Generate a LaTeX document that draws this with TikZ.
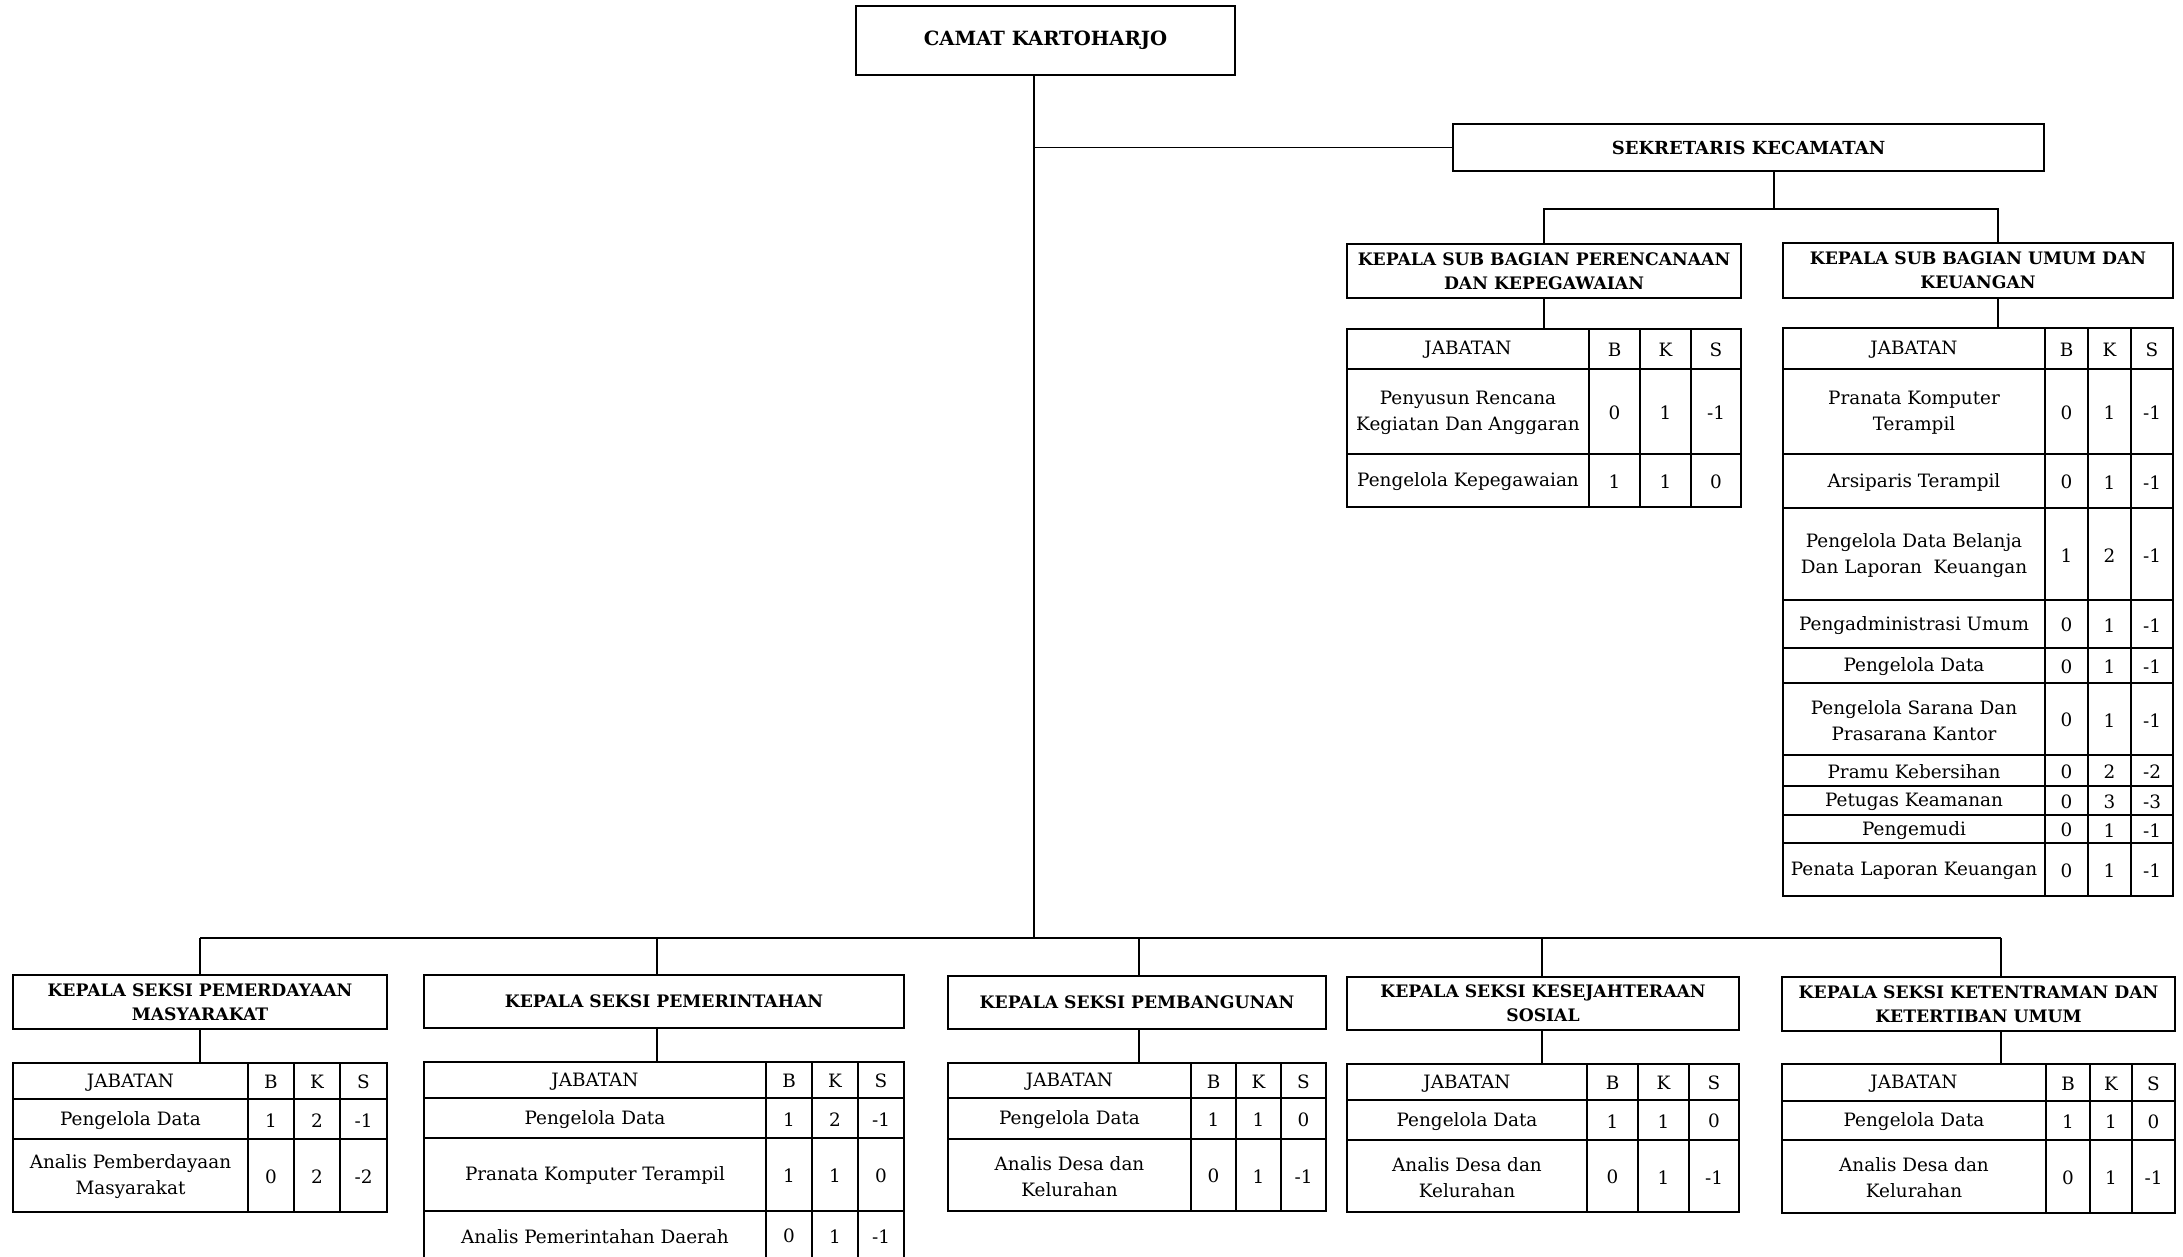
\documentclass[tikz,border=0pt]{standalone}
\usepackage{fontspec}
\setmainfont{DejaVu Serif}
\tikzset{
  obox/.style={draw, line width=1.1pt, inner sep=1pt, align=center, font=\bfseries\fontsize{8.6}{12}\selectfont},
  cell/.style={inner sep=0pt, align=center, yshift=-0.6pt, font=\fontsize{9.2}{13}\selectfont},
  tbl/.style={line width=0.9pt},
  conn/.style={line width=0.7pt},
}
\newcommand\obox[6]{%
  \pgfmathsetmacro\bw{(#4-#2)*0.5}%
  \pgfmathsetmacro\bh{(#5-#3)*0.5}%
  \node[obox, minimum width=\bw pt, minimum height=\bh pt] (#1) at ({(#2+#4)/2},{(#3+#5)/2}) {#6};}
\newcommand\setcols[5]{\def\tcA{#1}\def\tcB{#2}\def\tcC{#3}\def\tcD{#4}\def\tcE{#5}}
\newcommand\jrow[7]{%
  \draw[tbl] (\tcA,#2) rectangle (\tcE,#3) (\tcB,#2) -- (\tcB,#3) (\tcC,#2) -- (\tcC,#3) (\tcD,#2) -- (\tcD,#3);
  \node[cell] (#1j) at ({(\tcA+\tcB)/2},{(#2+#3)/2}) {#4};
  \node[cell] (#1b) at ({(\tcB+\tcC)/2},{(#2+#3)/2}) {#5};
  \node[cell] (#1k) at ({(\tcC+\tcD)/2},{(#2+#3)/2}) {#6};
  \node[cell] (#1s) at ({(\tcD+\tcE)/2},{(#2+#3)/2}) {#7};}
\begin{document}
\begin{tikzpicture}[x=0.5pt, y=-0.5pt]
\useasboundingbox[fill=white] (0,0) rectangle (2183,1257);

% top level
\obox{camat}{856}{6}{1235}{75}{\fontsize{9.8}{12}\selectfont CAMAT KARTOHARJO}
\obox{sek}{1453}{124}{2044}{171}{\fontsize{9}{12}\selectfont SEKRETARIS KECAMATAN}
\obox{perenc}{1347}{244}{1741}{298}{KEPALA SUB BAGIAN PERENCANAAN\\DAN KEPEGAWAIAN}
\obox{umum}{1783}{243}{2173}{298}{KEPALA SUB BAGIAN UMUM DAN\\KEUANGAN}

\coordinate (tk) at (1034,938);
\coordinate (sj) at (1774,209);
\coordinate (uj) at (1998,209);
\coordinate (ptop) at (1543,329);
\coordinate (utop) at (1998,328);

\draw[conn] (camat.south -| tk) -- (tk);
\draw[conn] (sek.west -| tk) -- (sek.west);
\draw[conn] (sek.south -| sj) -- (sj);
\draw[conn] (perenc.north) -- (perenc.north |- sj) -- (uj) -- (uj |- umum.north);
\draw[conn] (perenc.south) -- (perenc.south |- ptop);
\draw[conn] (uj |- umum.south) -- (utop);

% table perencanaan
\setcols{1347}{1589}{1640}{1691}{1741}
\jrow{pa}{329}{369}{JABATAN}{B}{K}{S}
\jrow{pb}{369}{454}{Penyusun Rencana\\Kegiatan Dan Anggaran}{0}{1}{-1}
\jrow{pc}{454}{507}{Pengelola Kepegawaian}{1}{1}{0}

% table umum
\setcols{1783}{2045}{2088}{2131}{2173}
\jrow{ua}{328}{369}{JABATAN}{B}{K}{S}
\jrow{ub}{369}{454}{Pranata Komputer\\Terampil}{0}{1}{-1}
\jrow{uc}{454}{508}{Arsiparis Terampil}{0}{1}{-1}
\jrow{ud}{508}{600}{Pengelola Data Belanja\\Dan Laporan\ \ Keuangan}{1}{2}{-1}
\jrow{ue}{600}{648}{Pengadministrasi Umum}{0}{1}{-1}
\jrow{uf}{648}{683}{Pengelola Data}{0}{1}{-1}
\jrow{ug}{683}{755}{Pengelola Sarana Dan\\Prasarana Kantor}{0}{1}{-1}
\jrow{uh}{755}{786}{Pramu Kebersihan}{0}{2}{-2}
\jrow{ui}{786}{815}{Petugas Keamanan}{0}{3}{-3}
\jrow{uk}{815}{843}{Pengemudi}{0}{1}{-1}
\jrow{ul}{843}{896}{Penata Laporan Keuangan}{0}{1}{-1}

% bottom level
\obox{b1}{13}{975}{387}{1029}{KEPALA SEKSI PEMERDAYAAN\\MASYARAKAT}
\obox{b2}{424}{975}{904}{1028}{KEPALA SEKSI PEMERINTAHAN}
\obox{b3}{948}{976}{1326}{1029}{KEPALA SEKSI PEMBANGUNAN}
\obox{b4}{1347}{977}{1739}{1030}{KEPALA SEKSI KESEJAHTERAAN\\SOSIAL}
\obox{b5}{1782}{977}{2175}{1031}{KEPALA SEKSI KETENTRAMAN DAN\\KETERTIBAN UMUM}

\coordinate (d1) at (200,938);
\coordinate (d2) at (657,938);
\coordinate (d3) at (1139,938);
\coordinate (d4) at (1542,938);
\coordinate (d5) at (2001,938);
\coordinate (t1) at (200,1063);
\coordinate (t2) at (657,1062);
\coordinate (t3) at (1139,1063);
\coordinate (t4) at (1542,1064);
\coordinate (t5) at (2001,1064);

\draw[conn] (d1) -- (d5);
\foreach \i in {1,...,5}{
  \draw[conn] (d\i) -- (d\i |- b\i.north);
  \draw[conn] (d\i |- b\i.south) -- (t\i);
}

\setcols{13}{248}{294}{340}{387}
\jrow{ma}{1063}{1099}{JABATAN}{B}{K}{S}
\jrow{mb}{1099}{1139}{Pengelola Data}{1}{2}{-1}
\jrow{mc}{1139}{1212}{Analis Pemberdayaan\\Masyarakat}{0}{2}{-2}

\setcols{424}{766}{812}{858}{904}
\jrow{ga}{1062}{1098}{JABATAN}{B}{K}{S}
\jrow{gb}{1098}{1138}{Pengelola Data}{1}{2}{-1}
\jrow{gc}{1138}{1211}{Pranata Komputer Terampil}{1}{1}{0}
\draw[tbl] (\tcA,1211) rectangle (\tcE,1268) (\tcB,1211) -- (\tcB,1268) (\tcC,1211) -- (\tcC,1268) (\tcD,1211) -- (\tcD,1268);
\node[cell] (gdj) at ({(\tcA+\tcB)/2},1235) {Analis Pemerintahan Daerah};
\node[cell] (gdb) at ({(\tcB+\tcC)/2},1235) {0};
\node[cell] (gdk) at ({(\tcC+\tcD)/2},1235) {1};
\node[cell] (gds) at ({(\tcD+\tcE)/2},1235) {-1};

\setcols{948}{1191}{1236}{1281}{1326}
\jrow{na}{1063}{1098}{JABATAN}{B}{K}{S}
\jrow{nb}{1098}{1139}{Pengelola Data}{1}{1}{0}
\jrow{nc}{1139}{1211}{Analis Desa dan\\Kelurahan}{0}{1}{-1}

\setcols{1347}{1587}{1638}{1689}{1739}
\jrow{sa}{1064}{1100}{JABATAN}{B}{K}{S}
\jrow{sb}{1100}{1140}{Pengelola Data}{1}{1}{0}
\jrow{sc}{1140}{1212}{Analis Desa dan\\Kelurahan}{0}{1}{-1}

\setcols{1782}{2046}{2090}{2132}{2175}
\jrow{ka}{1064}{1101}{JABATAN}{B}{K}{S}
\jrow{kb}{1101}{1140}{Pengelola Data}{1}{1}{0}
\jrow{kc}{1140}{1213}{Analis Desa dan\\Kelurahan}{0}{1}{-1}
\end{tikzpicture}
\end{document}
